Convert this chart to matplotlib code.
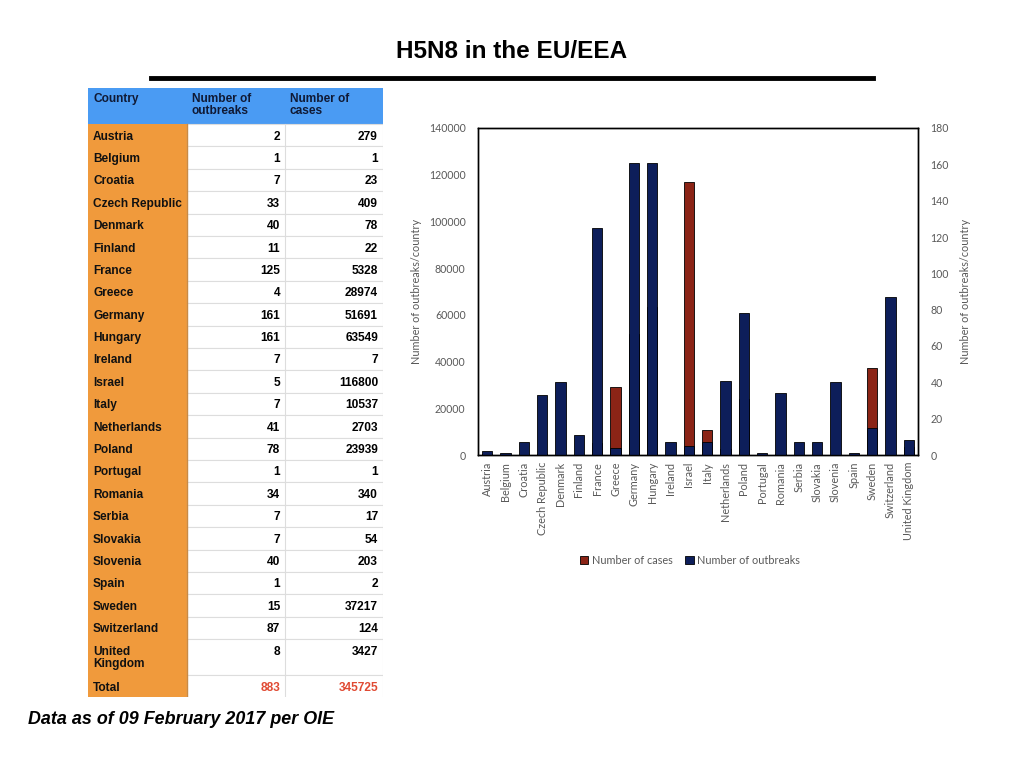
import numpy as np
import matplotlib
matplotlib.use('Agg')
import matplotlib.pyplot as plt
from matplotlib.patches import Rectangle, Patch
from matplotlib.lines import Line2D

countries = ['Austria', 'Belgium', 'Croatia', 'Czech Republic', 'Denmark', 'Finland',
             'France', 'Greece', 'Germany', 'Hungary', 'Ireland', 'Israel', 'Italy',
             'Netherlands', 'Poland', 'Portugal', 'Romania', 'Serbia', 'Slovakia',
             'Slovenia', 'Spain', 'Sweden', 'Switzerland', 'United Kingdom']
outbreaks = [2, 1, 7, 33, 40, 11, 125, 4, 161, 161, 7, 5, 7, 41, 78, 1, 34, 7, 7, 40, 1, 15, 87, 8]
cases = [279, 1, 23, 409, 78, 22, 5328, 28974, 51691, 63549, 7, 116800, 10537, 2703, 23939,
         1, 340, 17, 54, 203, 2, 37217, 124, 3427]
headers = ['Country', 'Number of\noutbreaks', 'Number of\ncases']

W, H = 1024, 768
fig = plt.figure(figsize=(10.24, 7.68), dpi=100)

# title and rule
fig.text(0.5, 1 - 51 / H, 'H5N8 in the EU/EEA', ha='center', va='center',
         fontsize=17.5, weight='bold', family='Liberation Sans')
fig.add_artist(Line2D([151 / W, 873 / W], [1 - 78 / H] * 2, lw=3.5, color='black'))

# ---- table ----
tx0, tx1, ty0, ty1 = 88, 383, 88, 697
tab = fig.add_axes([tx0 / W, 1 - ty1 / H, (tx1 - tx0) / W, (ty1 - ty0) / H])
tab.set_xlim(tx0, tx1)
tab.set_ylim(ty1, ty0)
tab.axis('off')
cols = [88, 187, 285, 383]
blue, orange = '#4A9BF3', '#F09A3C'
tfont = dict(family='Liberation Sans', weight='bold', fontsize=8.6)

# header
tab.add_patch(Rectangle((cols[0], 88), cols[3] - cols[0], 36, color=blue, lw=0))
for j, h in enumerate(headers):
    tab.text(cols[j] + 5, 88 + 5, h, va='top', ha='left', color='#101a35',
             linespacing=1.05, **tfont)

# body rows
rows = [(c.replace('United Kingdom', 'United\nKingdom'), str(o), str(k), 'black')
        for c, o, k in zip(countries, outbreaks, cases)]
rows.append(('Total', str(sum(outbreaks)), str(sum(cases)), '#E04A33'))
y = 124
for name, o, k, numcol in rows:
    rh = 36 if '\n' in name else 22.4
    tab.add_patch(Rectangle((cols[0], y), cols[1] - cols[0], rh, color=orange, lw=0))
    tab.add_patch(Rectangle((cols[1], y), cols[3] - cols[1], rh, facecolor='white',
                            edgecolor='#DDDDDD', lw=0.8))
    tab.plot([cols[2], cols[2]], [y, y + rh], color='#DDDDDD', lw=0.8)
    tab.text(cols[0] + 5, y + 6.5, name, va='top', ha='left', color='#111111',
             linespacing=1.05, **tfont)
    tab.text(cols[2] - 5, y + 6.5, o, va='top', ha='right', color=numcol, **tfont)
    tab.text(cols[3] - 5, y + 6.5, k, va='top', ha='right', color=numcol, **tfont)
    y += rh
tab.plot([cols[1], cols[1]], [124, ty1], color='#C98A45', lw=1)

# ---- chart ----
gray = '#595959'
cfont = 'Lato'
ax = fig.add_axes([478 / W, 1 - 455 / H, 440 / W, 327 / H])
x = np.arange(len(countries))
ax.bar(x, cases, width=0.58, color='#8B2416', edgecolor='black', lw=0.6)
ax2 = ax.twinx()
ax2.bar(x, outbreaks, width=0.58, color='#0D1E5A', edgecolor='black', lw=0.6)
ax.set_xlim(-0.5, len(countries) - 0.5)
ax.set_ylim(0, 140000)
ax2.set_ylim(0, 180)
ax.set_yticks(np.arange(0, 140001, 20000))
ax2.set_yticks(np.arange(0, 181, 20))
ax.set_xticks(x)
ax.set_xticklabels(countries, rotation=90, fontsize=7.8, color=gray, family=cfont)
for a in (ax, ax2):
    for s in a.spines.values():
        s.set_linewidth(1)
        s.set_color('black')
ax.tick_params(axis='y', length=0, pad=9, labelsize=7.6, labelcolor=gray)
ax2.tick_params(axis='y', length=0, pad=9, labelsize=7.6, labelcolor=gray)
ax.tick_params(axis='x', length=0, pad=5)
for lab in ax.get_yticklabels() + ax2.get_yticklabels():
    lab.set_family(cfont)
ax.set_ylabel('Number of outbreaks/country', fontsize=7.8, color=gray, family=cfont)
ax2.set_ylabel('Number of outbreaks/country', fontsize=7.8, color=gray, family=cfont)
ax.yaxis.set_label_coords(-0.127, 0.5)
ax2.yaxis.set_label_coords(1.095, 0.5)

handles = [Patch(facecolor='#8B2416', edgecolor='black', lw=0.6, label='Number of cases'),
           Patch(facecolor='#0D1E5A', edgecolor='black', lw=0.6, label='Number of outbreaks')]
leg = fig.legend(handles=handles, loc='center', bbox_to_anchor=(690 / W, 1 - 560 / H),
                 ncol=2, frameon=False, handlelength=0.75, handleheight=0.75,
                 handletextpad=0.3, columnspacing=1.2,
                 prop={'family': cfont, 'size': 7.8})
for t in leg.get_texts():
    t.set_color(gray)

fig.text(28 / W, 1 - 720 / H, 'Data as of 09 February 2017 per OIE', ha='left', va='center',
         fontsize=12.9, weight='bold', style='italic', family='Liberation Sans')

fig.savefig('out.png', dpi=100)
